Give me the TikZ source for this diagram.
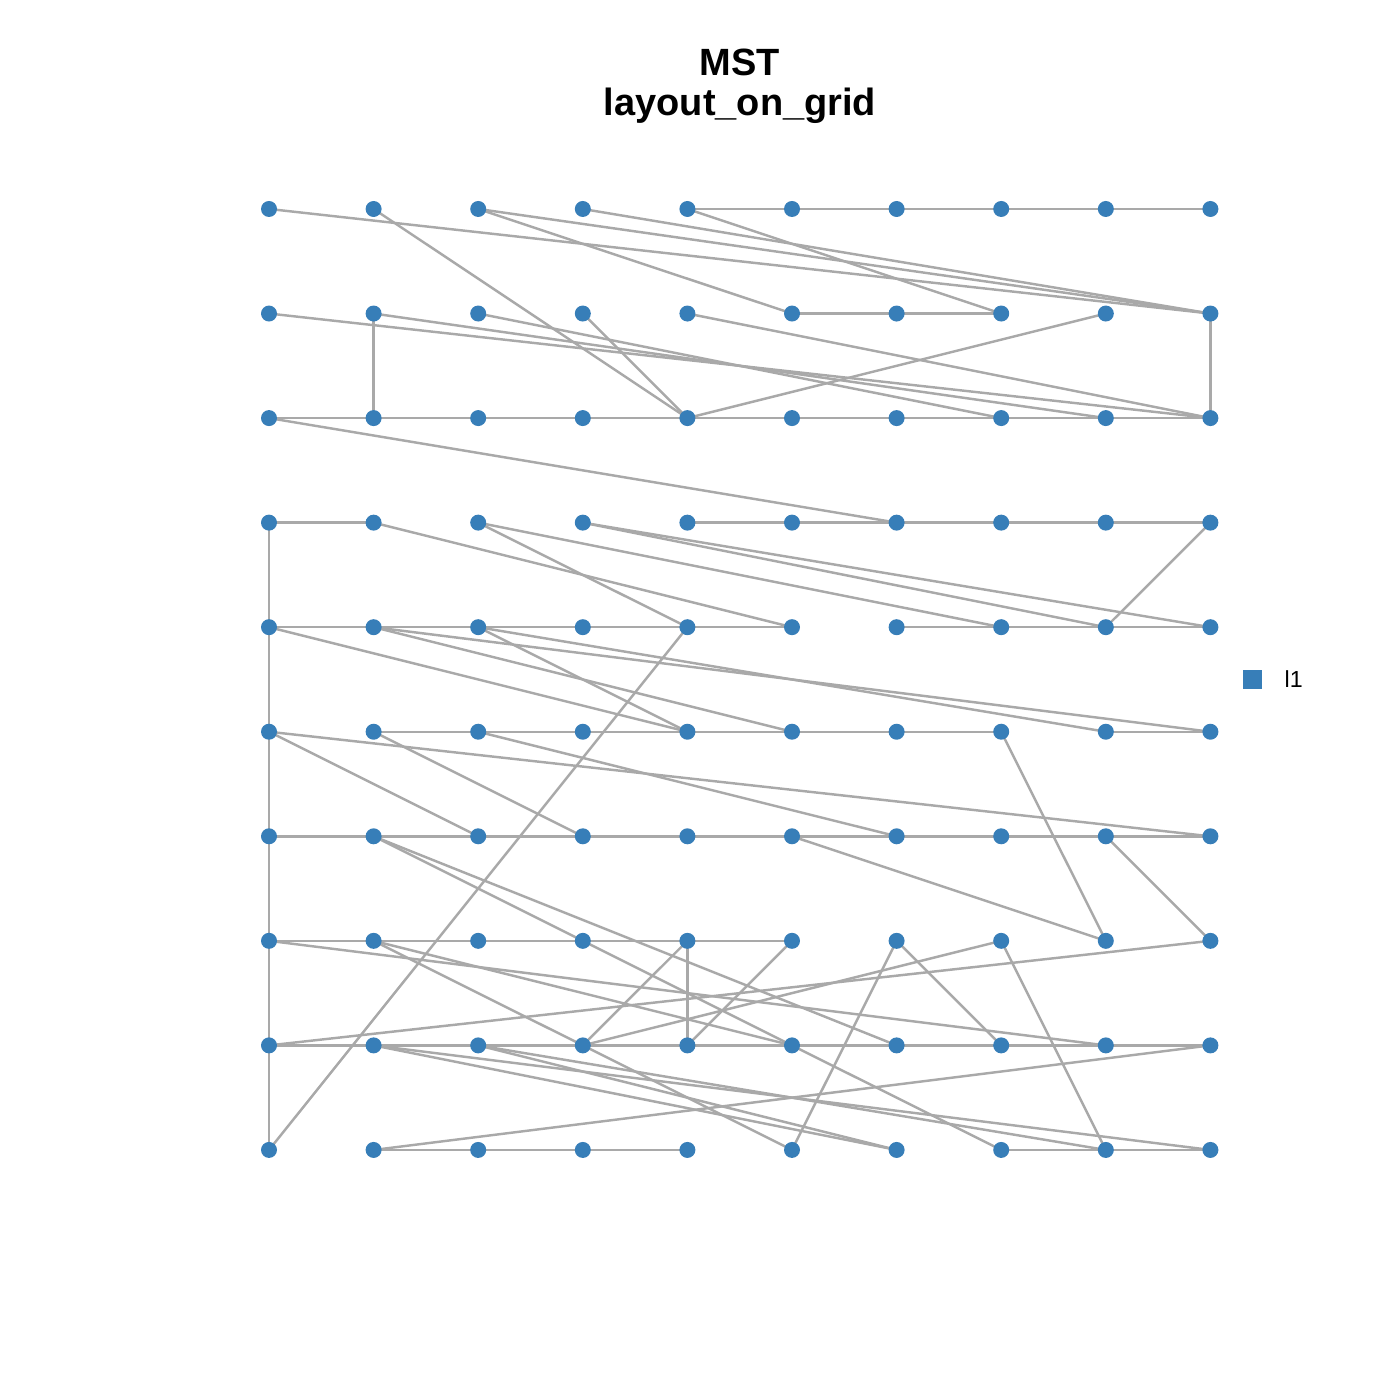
\documentclass[tikz,border=0pt]{standalone}
\usepackage{fontspec}
\setmainfont{Liberation Sans}
\definecolor{dotblue}{RGB}{55,126,184}
\definecolor{linkgray}{RGB}{169,169,169}

\begin{document}
\begin{tikzpicture}[x=0.01cm,y=0.01cm,
  link/.style={linkgray,line width=0.7pt},
  gdot/.style={fill=dotblue}]
\useasboundingbox (0,0) rectangle (1400,1400);
\foreach \r in {0,...,9}
  \foreach \c in {0,...,9}
    \coordinate (v\r\c) at ({269+104.6*\c},{1191-104.55*\r});
\foreach \a/\b in {00/19,01/24,02/15,02/19,03/19,04/17,04/05,05/06,06/07,07/08,08/09,
  10/29,11/28,12/27,11/21,13/24,14/29,15/16,16/17,18/24,19/29,
  20/21,21/22,22/23,23/24,24/25,25/26,26/27,27/28,28/29,20/36,
  30/31,30/40,31/45,32/44,32/47,33/48,33/49,34/35,35/36,36/37,37/38,38/39,39/48,
  40/41,41/42,42/43,43/44,44/45,46/47,47/48,48/49,40/50,40/54,41/55,41/59,42/54,42/58,44/90,
  50/60,50/62,50/69,51/52,52/53,53/54,54/55,55/56,56/57,51/63,52/66,57/78,58/59,
  60/61,61/62,62/63,63/64,64/65,65/66,66/67,67/68,68/69,60/70,61/73,73/85,85/97,61/86,65/78,68/79,
  70/71,71/72,72/73,73/74,74/75,70/80,70/88,71/83,83/95,71/85,74/84,74/83,75/84,76/95,76/87,77/83,77/98,79/80,
  80/81,81/82,82/83,83/84,84/85,85/86,86/87,87/88,88/89,80/90,81/96,82/96,82/98,81/99,89/91,
  91/92,92/93,93/94,97/98,98/99}
  \draw[link] (v\a) -- (v\b);
\foreach \r in {0,...,9}
  \foreach \c in {0,...,9}
    \fill[gdot] (v\r\c) circle (8);
\node[font=\bfseries\fontsize{10.8}{13}\selectfont,anchor=base] (title) at (740,1324) {MST};
\node[font=\bfseries\fontsize{10.8}{13}\selectfont,anchor=base] (subtitle) at (740,1284) {layout\_on\_grid};
\node[fill=dotblue,inner sep=0pt,minimum size=0.19cm] (key) at (1252.5,720) {};
\node[font=\fontsize{6.6}{8}\selectfont,anchor=base west,inner sep=0pt] (keylabel) at (1284,712) {l1};
\end{tikzpicture}
\end{document}
